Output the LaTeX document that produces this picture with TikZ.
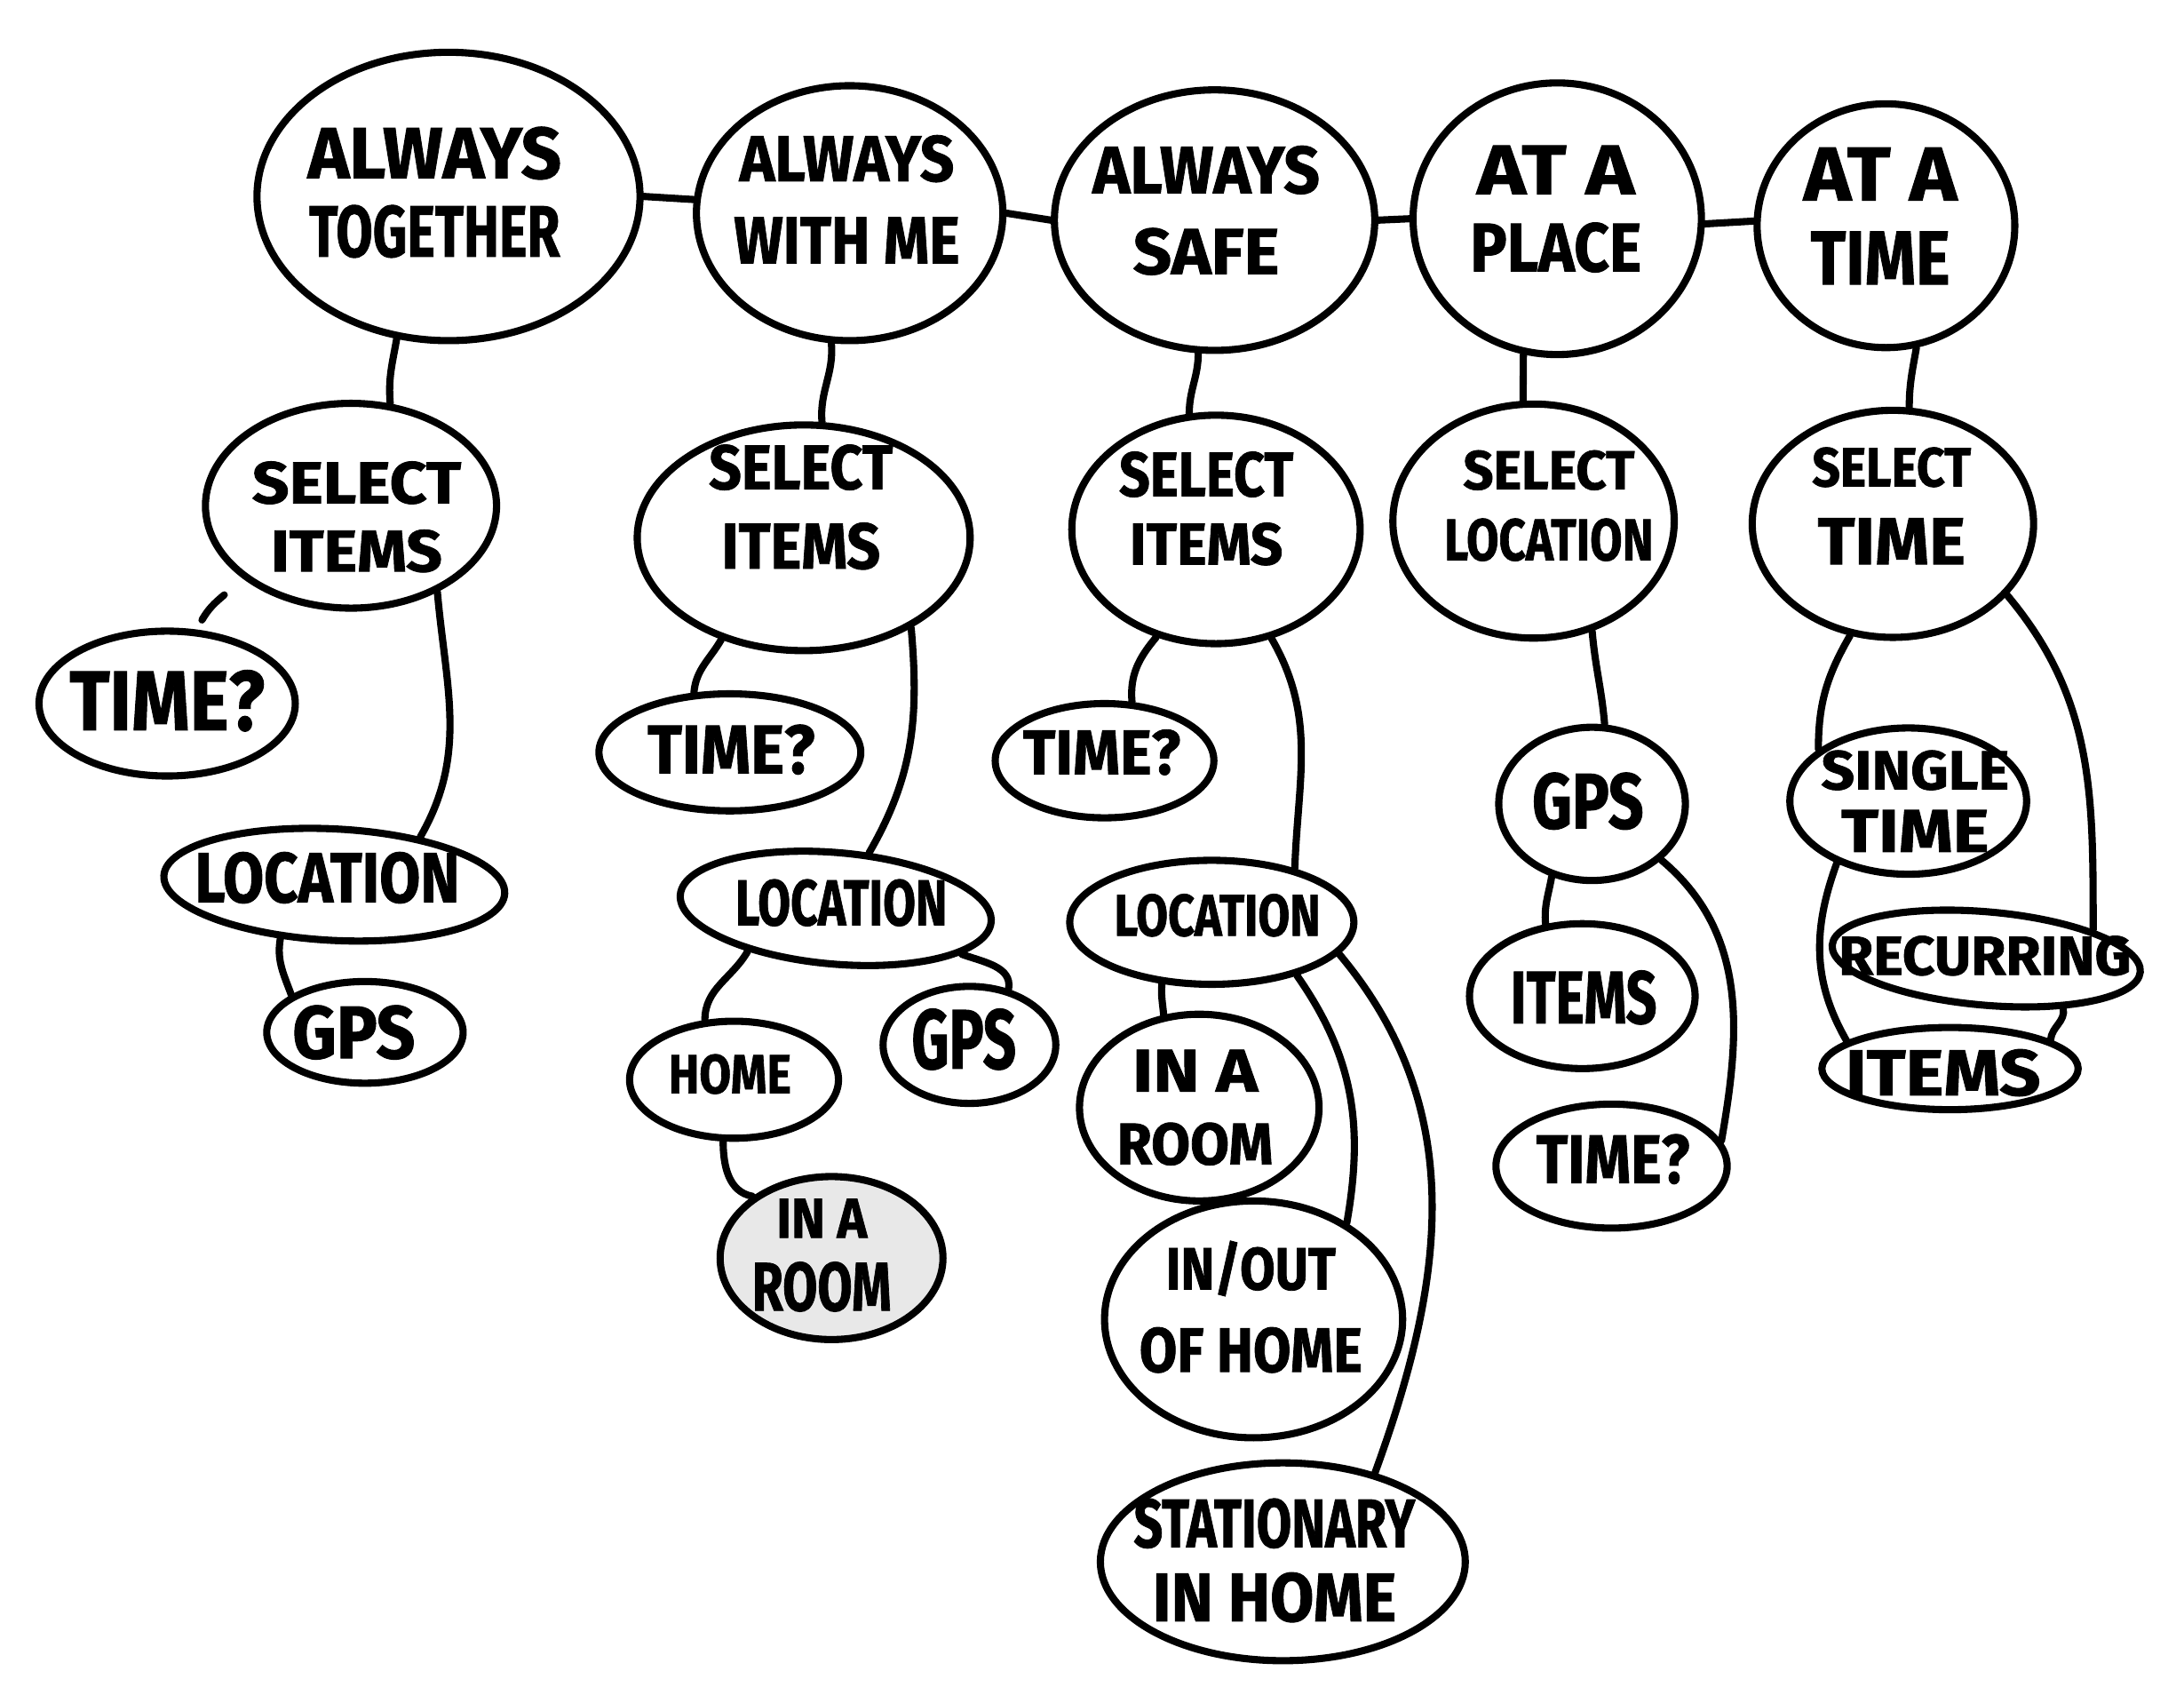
\documentclass[tikz,border=0pt]{standalone}
\usepackage{fontspec}
\setmainfont{Fira Sans}[BoldFeatures={FakeBold=1.2}]
\usepackage{graphicx}
\usetikzlibrary{shapes.geometric}
\newlength\pxu
\setlength\pxu{0.01568cm}
\newcommand\tx[3]{\resizebox{#1\pxu}{#2\pxu}{\bfseries #3}}
\tikzset{
  bub/.style={draw=black, ellipse, line width=2.3pt, inner sep=0pt, fill=white},
  lbl/.style={align=center, inner sep=0pt, font=\fontsize{8}{8}\selectfont},
  link/.style={draw=black, line width=2.3pt, line cap=round}
}
% [opt]{name}{center}{w}{h}{text center}{text}
\newcommand\bubble[7][]{%
  \node[bub,#1,minimum width=#4\pxu,minimum height=#5\pxu] (#2) at (#3) {};
  \node[lbl] (#2-t) at (#6) {#7};}
\begin{document}
\begin{tikzpicture}[x=0.01568cm,y=-0.01568cm]
\fill[white] (0,0) rectangle (1568,1222);
\useasboundingbox (0,0) rectangle (1568,1222);

% top row
\bubble{n1}{322,141}{275}{207}{312,138}{\tx{182}{37}{ALWAYS}\\[16\pxu]\tx{180}{37}{TOGETHER}}
\bubble{n2}{610,153}{220}{183}{608,143}{\tx{154}{33}{ALWAYS}\\[23\pxu]\tx{162}{33}{WITH ME}}
\bubble{n3}{872,158}{230}{187}{866,151}{\tx{163}{34}{ALWAYS}\\[22\pxu]\tx{105}{33}{SAFE}}
\bubble{n4}{1118,157}{207}{195}{1117,150}{\tx{113}{35}{AT A}\\[18\pxu]\tx{123}{35}{PLACE}}
\bubble{n5}{1354,162}{185}{175}{1350,155}{\tx{110}{38}{AT A}\\[20\pxu]\tx{100}{38}{TIME}}

% second row
\bubble{s1}{252,363}{209}{147}{256,371}{\tx{150}{30}{SELECT}\\[16\pxu]\tx{123}{30}{ITEMS}}
\bubble{s2}{577,386}{239}{162}{575,364}{\tx{132}{32}{SELECT}\\[21\pxu]\tx{114}{33}{ITEMS}}
\bubble{s3}{873,380}{207}{164}{866,365}{\tx{125}{32}{SELECT}\\[16\pxu]\tx{110}{30}{ITEMS}}
\bubble{s4}{1101,374}{202}{168}{1112,363}{\tx{123}{28}{SELECT}\\[18\pxu]\tx{150}{30}{LOCATION}}
\bubble{s5}{1359,376}{202}{163}{1358,363}{\tx{114}{28}{SELECT}\\[20\pxu]\tx{106}{33}{TIME}}

% column 1
\bubble{t1}{120,505}{184}{104}{120,503}{\tx{140}{43}{TIME?}}
\bubble[rotate=-3]{l1}{240,635}{245}{80}{235,630}{\tx{190}{36}{LOCATION}}
\bubble{g1}{262,741}{141}{73}{254,741}{\tx{88}{38}{GPS}}

% column 2
\bubble{t2}{524,540}{188}{84}{525,538}{\tx{120}{35}{TIME?}}
\bubble[rotate=-5]{l2}{600,652}{224}{80}{604,648}{\tx{152}{33}{LOCATION}}
\bubble{h2}{527,775}{150}{84}{524,771}{\tx{88}{28}{HOME}}
\bubble{g2}{696,750}{124}{84}{692,746}{\tx{75}{43}{GPS}}
\bubble[fill=black!9]{r2}{597,903}{160}{117}{590,901}{\tx{65}{28}{IN A}\\[15\pxu]\tx{100}{35}{ROOM}}

% column 3
\bubble{t3}{793,546}{157}{82}{791,540}{\tx{113}{32}{TIME?}}
\bubble{l3}{870,662}{204}{89}{874,657}{\tx{148}{30}{LOCATION}}
\bubble{r3}{861,795}{172}{134}{858,795}{\tx{90}{30}{IN A}\\[20\pxu]\tx{112}{30}{ROOM}}
\bubble{o3}{900,947}{214}{170}{898,938}{\tx{122}{35}{IN/OUT}\\[20\pxu]\tx{160}{32}{OF HOME}}
\bubble{st3}{921,1121}{262}{142}{915,1120}{\tx{202}{35}{STATIONARY}\\[15\pxu]\tx{175}{35}{IN HOME}}

% column 4
\bubble{g4}{1143,577}{134}{110}{1140,575}{\tx{80}{40}{GPS}}
\bubble{i4}{1136,715}{162}{104}{1137,716}{\tx{105}{38}{ITEMS}}
\bubble{t4}{1157,837}{166}{89}{1158,832}{\tx{110}{35}{TIME?}}

% column 5
\bubble{st5}{1370,575}{170}{105}{1375,575}{\tx{135}{28}{SINGLE}\\[12\pxu]\tx{106}{30}{TIME}}
\bubble[rotate=-5]{rc5}{1426,688}{222}{67}{1425,686}{\tx{210}{28}{RECURRING}}
\bubble{it5}{1400,767}{184}{59}{1395,770}{\tx{140}{33}{ITEMS}}

% top links
\draw[link] (n1.0) -- (n2.175);
\draw[link] (n2.0) -- (n3.180);
\draw[link] (n3.0) -- (n4.180);
\draw[link] (n4.-2) -- (n5.178);
\draw[link] (n1.-110) to[out=-100,in=95] (s1.69);
\draw[link] (n2.-98) to[out=-85,in=95] (s2.81);
\draw[link] (n3.-97) to[out=-90,in=90] (s3.103);
\draw[link] (n4.-104) -- (s4.95);
\draw[link] (n5.-76) to[out=-100,in=90] (s5.82);

% column 1 links
\coordinate (c1a) at (161,427);
\coordinate (c1b) at (145,445);
\draw[link] (c1a) to[out=-140,in=60] (c1b);
\draw[link] (s1.-45) to[out=-85,in=60] (l1.32);
\draw[link] (l1.-132) to[out=-100,in=110] (g1.153);

% column 2 links
\draw[link] (s2.-129) to[out=-120,in=85] (t2.121);
\draw[link] (s2.-40) to[out=-85,in=60] (l2.64);
\draw[link] (l2.-149) to[out=-120,in=90] (h2.116);
\draw[link] (l2.-15) to[out=-20,in=80] (g2.55);
\draw[link] (h2.-100) to[out=-90,in=170] (r2.142);

% column 3 links
\draw[link] (s3.-119) to[out=-130,in=95] (t3.65);
\draw[link] (s3.-63) to[out=-60,in=88] (l3.33);
\draw[link] (l3.-129) to[out=-95,in=95] (r3.111);
\draw[link] (l3.-32) to[out=-55,in=80] (o3.46);
\draw[link] (l3.-14) to[out=-50,in=70] (st3.44);

% column 4 links
\draw[link] (s4.-62) to[out=-85,in=95] (g4.81);
\draw[link] (g4.-119) to[out=-100,in=95] (i4.117);
\draw[link] (g4.-39) to[out=-40,in=80] (t4.13);

% column 5 links
\draw[link] (s5.-111) to[out=-120,in=90] (st5.150);
\draw[link] (s5.-32) to[out=-50,in=90] (rc5.20);
\draw[link] (st5.-139) to[out=-110,in=120] (it5.165);
\draw[link] (rc5.-28) to[out=-80,in=85] (it5.16);
\end{tikzpicture}
\end{document}
